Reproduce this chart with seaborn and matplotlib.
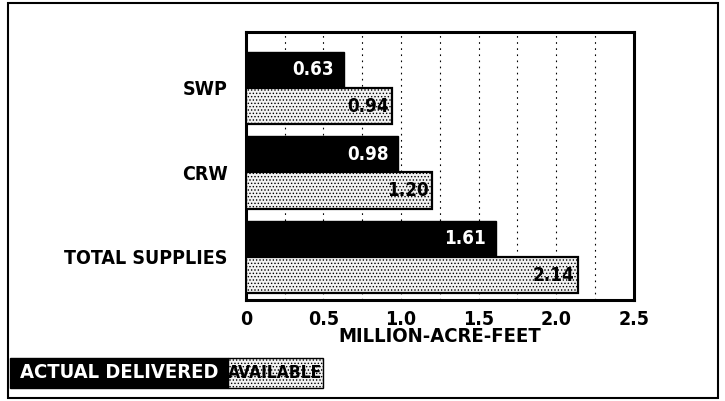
import matplotlib
matplotlib.use("Agg")
import matplotlib.pyplot as plt
import seaborn as sns
import pandas as pd
from matplotlib.patches import Rectangle

# --- data ---
categories = ["SWP", "CRW", "TOTAL SUPPLIES"]
series_names = ["ACTUAL DELIVERED", "AVAILABLE"]
actual_delivered = [0.63, 0.98, 1.61]
available = [0.94, 1.20, 2.14]
x_ticks = [0, 0.5, 1.0, 1.5, 2.0, 2.5]
x_tick_labels = ["0", "0.5", "1.0", "1.5", "2.0", "2.5"]

df = pd.DataFrame({
    "Source": categories * 2,
    "Series": [series_names[0]] * 3 + [series_names[1]] * 3,
    "Value": actual_delivered + available,
})

sns.set_theme(style="white")
plt.rcParams["font.family"] = ["DejaVu Sans"]
plt.rcParams["font.stretch"] = "condensed"
plt.rcParams["font.weight"] = "bold"
plt.rcParams["hatch.linewidth"] = 0.6
for key in ["text.color", "axes.labelcolor", "xtick.color", "ytick.color"]:
    plt.rcParams[key] = "black"

fig = plt.figure(figsize=(7.25, 4.01), dpi=100)
ax = fig.add_axes([0.339, 0.252, 0.535, 0.668])

sns.barplot(
    data=df, y="Source", x="Value", hue="Series", orient="h",
    order=categories, hue_order=series_names,
    palette=["black", "#f2f2f2"], width=0.86, saturation=1,
    legend=False, ax=ax,
)

# bar styling and value labels
for i, container in enumerate(ax.containers):
    for bar, val in zip(container, [actual_delivered, available][i]):
        bar.set_zorder(3)
        bar.set_edgecolor("black")
        if i == 1:
            bar.set_hatch(".....")
            bar.set_linewidth(1.6)
            color, pad = "black", 0.02
        else:
            color, pad = "white", 0.06
        ax.text(val - pad, bar.get_y() + bar.get_height() / 2, f"{val:.2f}",
                ha="right", va="center", color=color, fontsize=13.5,
                fontweight="bold", zorder=5)

ax.set_xlim(0, 2.5)
ax.set_ylim(2.51, -0.66)
ax.set_xticks(x_ticks)
ax.set_xticklabels(x_tick_labels, fontsize=14, fontweight="bold")
ax.set_xticks([0.25, 0.75, 1.25, 1.75, 2.25], minor=True)
ax.tick_params(axis="x", which="both", length=0, pad=7)
ax.tick_params(axis="y", length=0, pad=13, labelsize=14)
for lbl in ax.get_yticklabels():
    lbl.set_fontweight("bold")
ax.set_ylabel("")
ax.set_xlabel("MILLION-ACRE-FEET", fontsize=14.5, fontweight="bold", labelpad=-1)

ax.grid(axis="x", which="both", color="black", linestyle=(0, (1.5, 4)),
        linewidth=0.8, zorder=1)
ax.grid(axis="y", visible=False)
ax.set_axisbelow(True)
for s in ax.spines.values():
    s.set_color("black")
    s.set_linewidth(2.2)

# outer frame
fig.patches.append(Rectangle((8 / 725, 3 / 401), 710 / 725, 395 / 401,
                             transform=fig.transFigure, fill=False,
                             edgecolor="black", linewidth=1.5))

# legend strip at the bottom
fig.patches.append(Rectangle((10 / 725, 13 / 401), 218 / 725, 30 / 401,
                             transform=fig.transFigure, facecolor="black",
                             edgecolor="black"))
fig.patches.append(Rectangle((228 / 725, 13 / 401), 95 / 725, 30 / 401,
                             transform=fig.transFigure, facecolor="#f2f2f2",
                             edgecolor="black", hatch=".....", linewidth=1.0))
fig.text(119 / 725, 28 / 401, series_names[0], color="white", fontsize=14.5,
         fontweight="bold", ha="center", va="center")
fig.text(275.5 / 725, 28 / 401, series_names[1], color="black", fontsize=12.5,
         fontweight="bold", ha="center", va="center")

fig.savefig("out.png", dpi=100)
